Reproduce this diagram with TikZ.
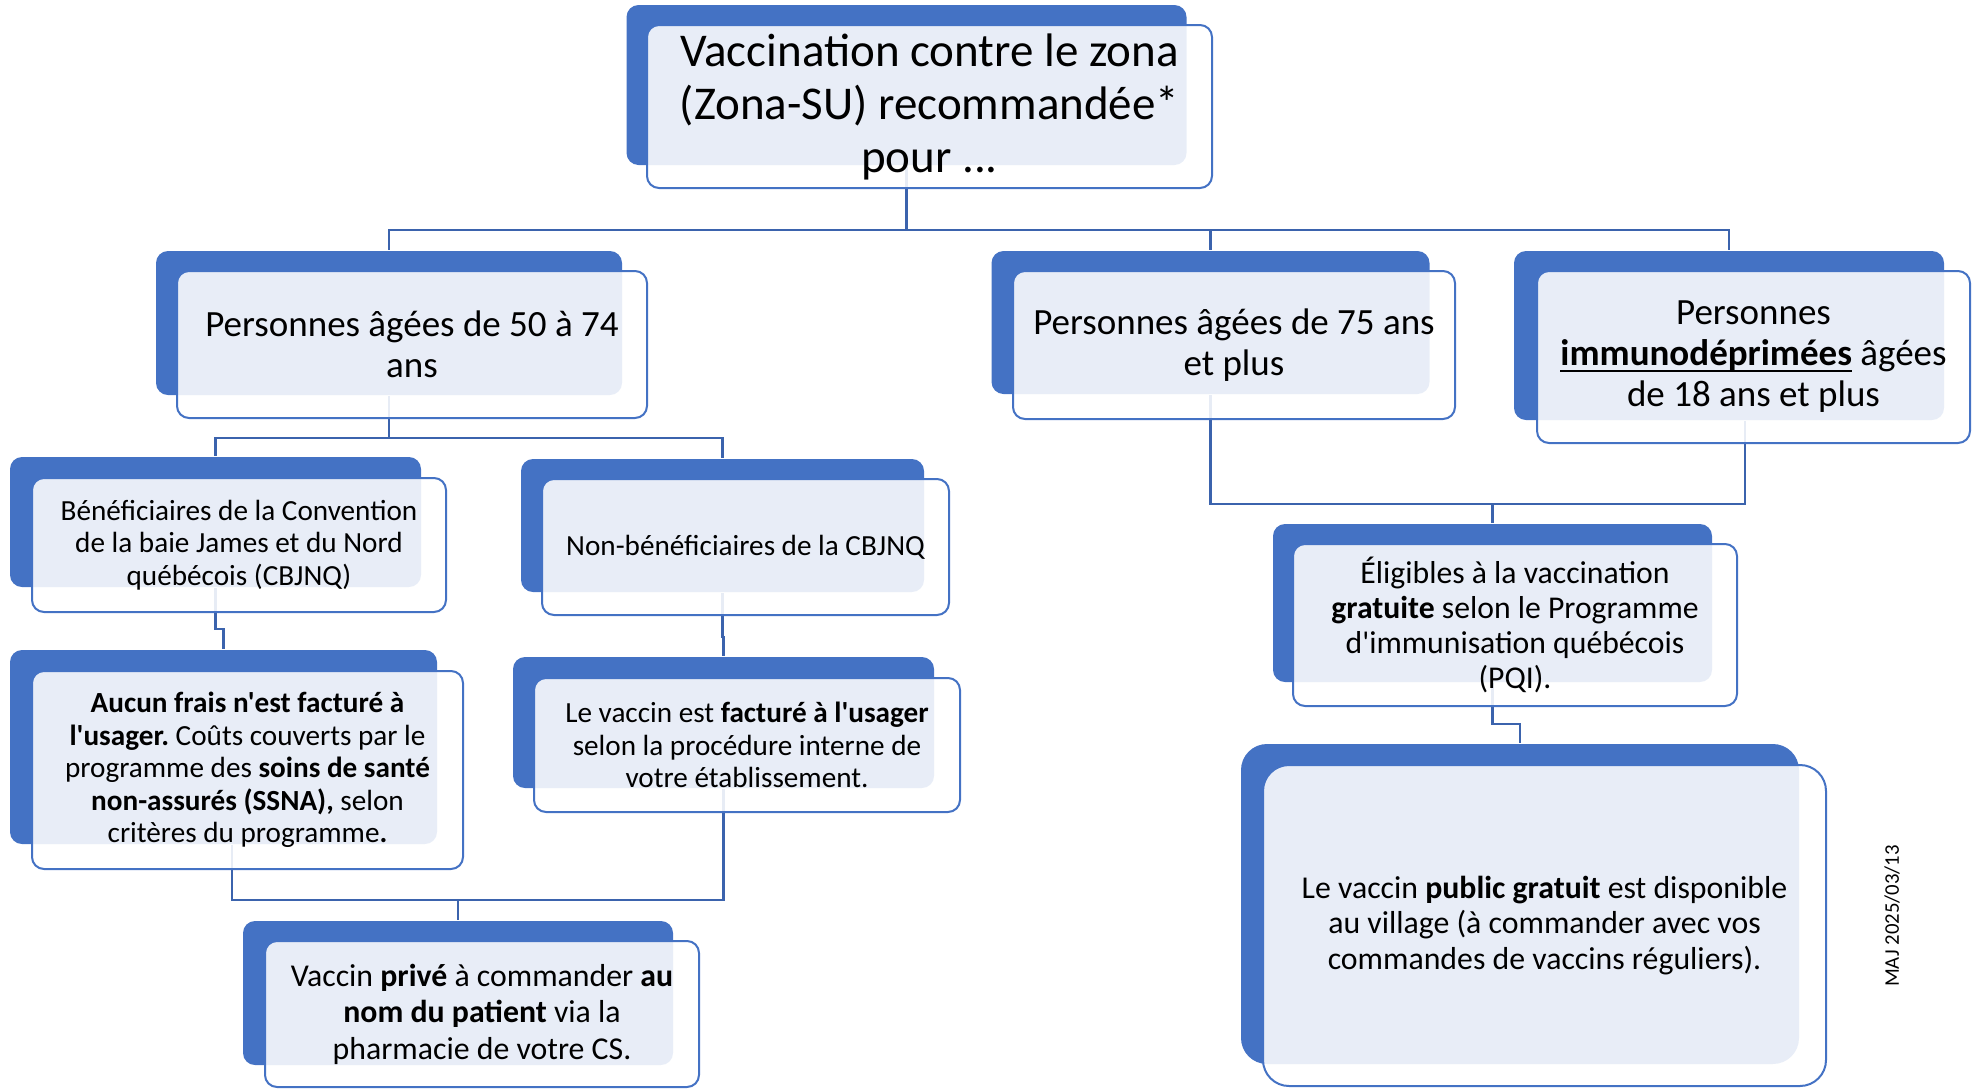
\documentclass[tikz,border=0pt]{standalone}
\usepackage{fontspec}
\setmainfont{Carlito}[Ligatures=TeXOff]
\usetikzlibrary{backgrounds}
\definecolor{zblue}{HTML}{4472C4}
\definecolor{zline}{HTML}{3B63AD}
\frenchspacing
\newcommand{\ulbf}[1]{\setbox0\hbox{\textbf{#1}}\rlap{\rule[-0.17em]{\wd0}{0.06em}}\box0\relax}
\newcommand{\fTitle}{\fontsize{23.5pt}{26.5pt}\selectfont}
\newcommand{\fOne}{\fontsize{18.5pt}{20.5pt}\selectfont}
\newcommand{\fTwo}{\fontsize{14.6pt}{16.2pt}\selectfont}
\newcommand{\fThree}{\fontsize{15.9pt}{17.8pt}\selectfont}
\tikzset{every picture/.style={line width=0.75pt}}
\tikzset{
	backbox/.style={fill=zblue, rounded corners=6pt, inner sep=0pt},
	frontbox/.style={draw=zblue, line width=1pt, fill=white, fill opacity=0.88, text opacity=1, rounded corners=6pt, align=center, inner sep=0pt},
	sz/.style 2 args={minimum width=#1, minimum height=#2},
	link/.style={draw=zline, line width=1.1pt},
}

\begin{document}
\begin{tikzpicture}[x=0.5pt,y=0.5pt,yscale=-1,xscale=1]
	\useasboundingbox (0,0) rectangle (1975,1088);
	
	% titre
	\node[backbox, sz={280pt}{80pt}] (tb) at (906.5,85) {};
	\node[frontbox, sz={282.5pt}{81.5pt}, font=\fTitle] (t) at (929.5,106.5) {Vaccination contre le zona\\(Zona-SU) recommandée*\\pour ...};
	
	% groupes d'age
	\node[backbox, sz={233pt}{72pt}] (ab) at (389,323) {};
	\node[frontbox, sz={235pt}{73.5pt}, font=\fOne] (a) at (412,344.5) {Personnes âgées de 50 à 74\\ans};
	\node[backbox, sz={219pt}{71.5pt}] (bb) at (1210.5,322.5) {};
	\node[frontbox, sz={221pt}{74pt}, font=\fOne] (b) at (1234,345) {Personnes âgées de 75 ans\\et plus};
	\node[backbox, sz={215pt}{84.5pt}] (cb) at (1729,335.5) {};
	\node[frontbox, sz={216.5pt}{86pt}, font=\fOne] (c) at (1753.5,357) {Personnes\\\ulbf{immunodéprimées} âgées\\de 18 ans et plus};
	
	% 50 a 74 ans
	\node[backbox, sz={205.5pt}{65pt}] (fb) at (215.5,522) {};
	\node[frontbox, sz={207pt}{67pt}, font=\fTwo] (f) at (239,545) {Bénéficiaires de la Convention\\de la baie James et du Nord\\québécois (CBJNQ)};
	\node[backbox, sz={201.5pt}{66.5pt}] (hb) at (722.5,525.5) {};
	\node[frontbox, sz={203.5pt}{68pt}, font=\fTwo] (h) at (745.5,547) {Non-bénéficiaires de la CBJNQ};
	\node[backbox, sz={213.5pt}{97pt}] (gb) at (223.5,747) {};
	\node[frontbox, sz={215.5pt}{99pt}, font=\fTwo] (g) at (247.5,770) {\textbf{Aucun frais n'est facturé à}\\\textbf{l'usager.} Coûts couverts par le\\programme des \textbf{soins de santé}\\\textbf{non-assurés (SSNA),} selon\\critères du programme\textbf{.}};
	\node[backbox, sz={210.5pt}{65.5pt}] (jb) at (723.5,722.5) {};
	\node[frontbox, sz={213pt}{67pt}, font=\fTwo] (j) at (747,745) {Le vaccin est \textbf{facturé à l'usager}\\selon la procédure interne de\\votre établissement.};
	\node[backbox, sz={215pt}{72pt}] (ib) at (458,993) {};
	\node[frontbox, sz={217pt}{73pt}, font=\fontsize{15.9pt}{18.3pt}\selectfont] (i) at (482,1014) {Vaccin \textbf{privé} à commander \textbf{au}\\\textbf{nom du patient} via la\\pharmacie de votre CS.};
	
	% 75 ans et plus, immunodeprimees
	\node[backbox, sz={219.5pt}{79pt}] (db) at (1492.5,603) {};
	\node[frontbox, sz={222pt}{81pt}, font=\fontsize{15.85pt}{17.5pt}\selectfont] (d) at (1515,625) {Éligibles à la vaccination\\\textbf{gratuite} selon le Programme\\d'immunisation québécois\\(PQI).};
	\node[backbox, sz={279pt}{160pt}, rounded corners=13pt] (eb) at (1520,904) {};
	\node[frontbox, sz={281.5pt}{160.5pt}, rounded corners=13pt, font=\fThree] (e) at (1544.5,925.5) {Le vaccin \textbf{public gratuit} est disponible\\au village (à commander avec vos\\commandes de vaccins réguliers).};
	
	\node[rotate=90, font=\fontsize{10.4pt}{12pt}\selectfont] (maj) at (1892,916) {MAJ 2025/03/13};
	
	% liens
	\begin{scope}[on background layer]
		\draw[link] (tb.south) -- ++(0,64) -| (ab.north);
		\draw[link] (tb.south) -- ++(0,64) -| (bb.north);
		\draw[link] (tb.south) -- ++(0,64) -| (cb.north);
		\draw[link] (ab.south) -- ++(0,42) -| (fb.north);
		\draw[link] (ab.south) -- ++(0,42) -| (hb.north);
		\draw[link] (fb.south) -- ++(0,41) -| (gb.north);
		\draw[link] (hb.south) -- ++(0,44) -| (jb.north);
		\draw[link] ([xshift=4.25pt]gb.south) -- ++(0,55) -| (ib.north);
		\draw[link] (jb.south) -- ++(0,111) -| (ib.north);
		\draw[link] (bb.south) -- ++(0,109) -| (db.north);
		\draw[link] ([xshift=8pt]cb.south) -- ++(0,83) -| (db.north);
		\draw[link] (db.south) -- ++(0,41) -| (eb.north);
	\end{scope}
	
\end{tikzpicture}
\end{document}
